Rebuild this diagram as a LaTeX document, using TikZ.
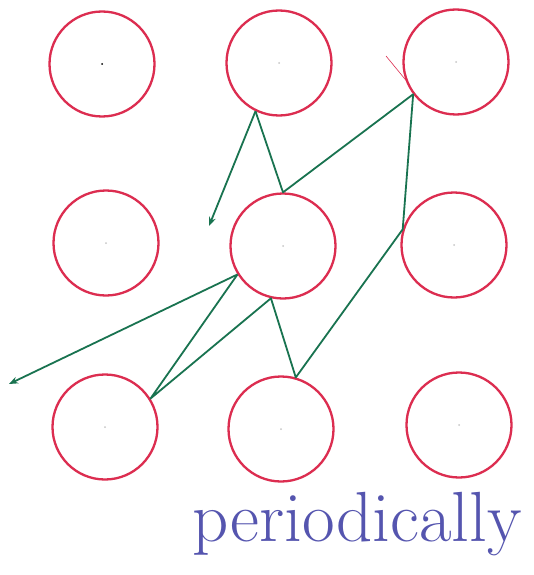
\documentclass[tikz,border=0pt]{standalone}
\usetikzlibrary{arrows.meta}
\definecolor{ringred}{RGB}{220,45,80}
\definecolor{linegreen}{RGB}{25,115,80}
\definecolor{inkblue}{RGB}{85,85,175}
\begin{document}
\begin{tikzpicture}[x=1pt,y=-1pt,
  ring/.style={circle,draw=ringred,line width=2.3pt,minimum size=105pt,inner sep=0pt},
  link/.style={draw=linegreen,line width=1.8pt},
  arrowlink/.style={link,-{Stealth[length=9pt,width=7pt]}},
  cdot/.style={circle,fill=gray!45,inner sep=0pt,minimum size=2pt}]
\useasboundingbox[fill=white] (0,0) rectangle (534,575);
% circles
\node[ring] (c1) at (102,64) {};
\node[ring] (c2) at (279,63) {};
\node[ring] (c3) at (456,62) {};
\node[ring] (c4) at (106,243) {};
\node[ring] (c5) at (283,246) {};
\node[ring] (c6) at (454,245) {};
\node[ring] (c7) at (105,427) {};
\node[ring] (c8) at (281,429) {};
\node[ring] (c9) at (459,425) {};
% centre dots
\node[circle,fill=black,inner sep=0pt,minimum size=2pt] (d1) at (c1) {};
\foreach \c in {c2,c3,c4,c5,c6,c7,c8,c9} \node[cdot] at (\c) {};
% junction points on the rings
\coordinate (j1) at (c2.244);
\coordinate (j2) at (c5.90);
\coordinate (j3) at (c3.217);
\coordinate (j4) at (c6.163);
\coordinate (j5) at (c8.74);
\coordinate (j6) at (c5.257);
\coordinate (j7) at (c7.32);
\coordinate (j8) at (c5.212);
\coordinate (e1) at (209,226);
\coordinate (e2) at (9,384);
% green path
\draw[arrowlink] (j1) -- (e1);
\draw[link,line join=round] (j1) -- (j2) -- (j3) -- (j4) -- (j5) -- (j6) -- (j7) -- (j8);
\draw[arrowlink] (j8) -- (e2);
% stray red tick near the top-right ring
\draw[ringred,line width=0.6pt] (386,56) -- (409,84);
% handwritten word
\node[anchor=base west,inner sep=0pt,text=inkblue,font=\fontsize{71}{76}\selectfont] (word) at (192,541) {periodically};
\end{tikzpicture}
\end{document}
